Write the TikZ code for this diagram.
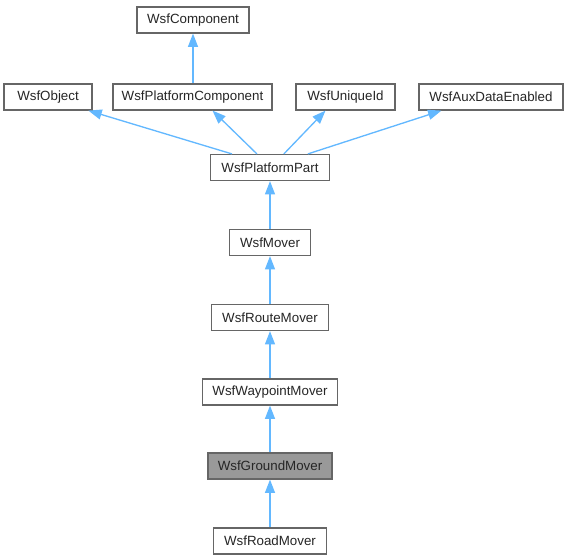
\documentclass[tikz,border=0pt]{standalone}
\usepackage{fontspec}
\setmainfont{Liberation Sans}
\usetikzlibrary{arrows.meta,calc}
\begin{document}
\begin{tikzpicture}[x=0.75pt,y=-0.75pt,
  cls/.style={draw=black!60,fill=white,line width=0.9pt,minimum height=19.5pt,inner sep=0pt,font=\fontsize{10pt}{12pt}\selectfont,text=black!85},
  cur/.style={cls,fill=black!40},
  edge/.style={draw={rgb,255:red,99;green,184;blue,255},line width=1pt,{Triangle[length=10pt,width=7.5pt]}-}]
\useasboundingbox (0,0) rectangle (568,560);
\node[cls,minimum width=84pt] (comp) at (193,20) {WsfComponent};
\node[cls,minimum width=66pt] (obj) at (48,97) {WsfObject};
\node[cls,minimum width=119.25pt] (pc) at (192.5,97) {WsfPlatformComponent};
\node[cls,minimum width=74.25pt] (uid) at (345.5,97) {WsfUniqueId};
\node[cls,minimum width=108pt] (aux) at (491,97) {WsfAuxDataEnabled};
\node[cls,minimum width=89.25pt] (pp) at (270,167.5) {WsfPlatformPart};
\node[cls,minimum width=60.75pt] (mov) at (270,242.5) {WsfMover};
\node[cls,minimum width=87.75pt] (route) at (270,317.5) {WsfRouteMover};
\node[cls,minimum width=101.25pt] (way) at (270,392) {WsfWaypointMover};
\node[cur,minimum width=93pt] (ground) at (270,466) {WsfGroundMover};
\node[cls,minimum width=84.75pt] (road) at (270,541) {WsfRoadMover};
\draw[edge] (comp.south) -- (comp.south |- pc.north);
\draw[edge] ($(obj.south west)+(85,0)$) -- ($(pp.north west)+(22,0)$);
\draw[edge] ($(pc.south)+(20,0)$) -- ($(pp.north west)+(47,0)$);
\draw[edge] ($(uid.south)+(-20,0)$) -- ($(pp.north west)+(74,0)$);
\draw[edge] ($(aux.south west)+(23,0)$) -- ($(pp.north west)+(98,0)$);
\draw[edge] (pp.south) -- (mov.north);
\draw[edge] (mov.south) -- (route.north);
\draw[edge] (route.south) -- (way.north);
\draw[edge] (way.south) -- (ground.north);
\draw[edge] (ground.south) -- (road.north);
\end{tikzpicture}
\end{document}
